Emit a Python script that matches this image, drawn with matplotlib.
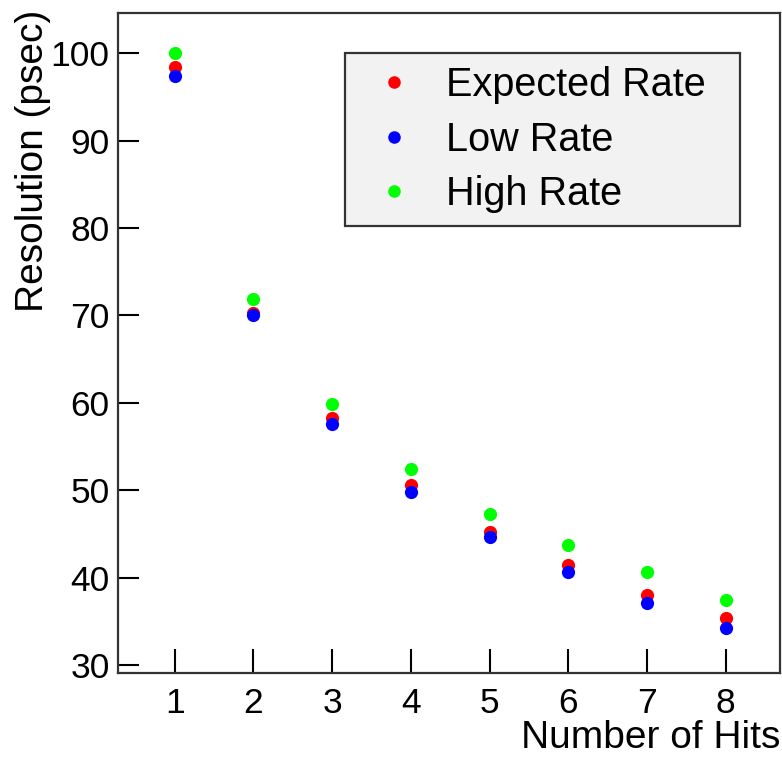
import matplotlib
matplotlib.use("Agg")
import matplotlib.pyplot as plt

plt.rcParams["font.family"] = ["Liberation Sans", "DejaVu Sans"]

hits = [1, 2, 3, 4, 5, 6, 7, 8]
expected_rate = [98.4, 70.3, 58.3, 50.6, 45.2, 41.4, 38.0, 35.4]
low_rate = [97.4, 70.0, 57.6, 49.8, 44.7, 40.7, 37.1, 34.3]
high_rate = [100.0, 71.9, 59.9, 52.4, 47.3, 43.7, 40.7, 37.5]

series = [
    ("Expected Rate", expected_rate, "#ff0000"),
    ("Low Rate", low_rate, "#0000ff"),
    ("High Rate", high_rate, "#00ff00"),
]

fig = plt.figure(figsize=(7.82, 7.57), dpi=100)
ax = fig.add_axes([0.1509, 0.1110, 0.8465, 0.8718])

for label, vals, color in series:
    ax.plot(hits, vals, linestyle="none", marker="o", markersize=9.5,
            markeredgewidth=0, color=color, label=label)

ax.set_xlim(0.28, 8.69)
ax.set_ylim(29.1, 104.6)
ax.set_xticks(hits)
ax.set_yticks([30, 40, 50, 60, 70, 80, 90, 100])
ax.tick_params(axis="both", direction="in", labelsize=25.5, width=1.5, colors="black")
ax.tick_params(axis="y", length=15, pad=6)
ax.tick_params(axis="x", length=17, pad=10)

for side in ["left", "right", "top", "bottom"]:
    ax.spines[side].set_linewidth(1.6)
    ax.spines[side].set_color("#333333")

ax.set_xlabel("Number of Hits", fontsize=28, loc="right")
ax.xaxis.set_label_coords(1.0, -0.072)
ax.set_ylabel("Resolution (psec)", fontsize=28, loc="top")
ax.yaxis.set_label_coords(-0.101, 1.005)

leg = ax.legend(loc="upper left", bbox_to_anchor=(0.343, 0.680, 0.597, 0.259),
                mode="expand", fontsize=28.5, frameon=True, fancybox=False,
                borderpad=0.32, handlelength=1.84, handletextpad=0.4,
                labelspacing=0.42, markerscale=0.95, borderaxespad=0)
frame = leg.get_frame()
frame.set_facecolor("#f2f2f2")
frame.set_edgecolor("#333333")
frame.set_linewidth(1.6)
frame.set_alpha(1)

fig.savefig("out.png", dpi=100)
